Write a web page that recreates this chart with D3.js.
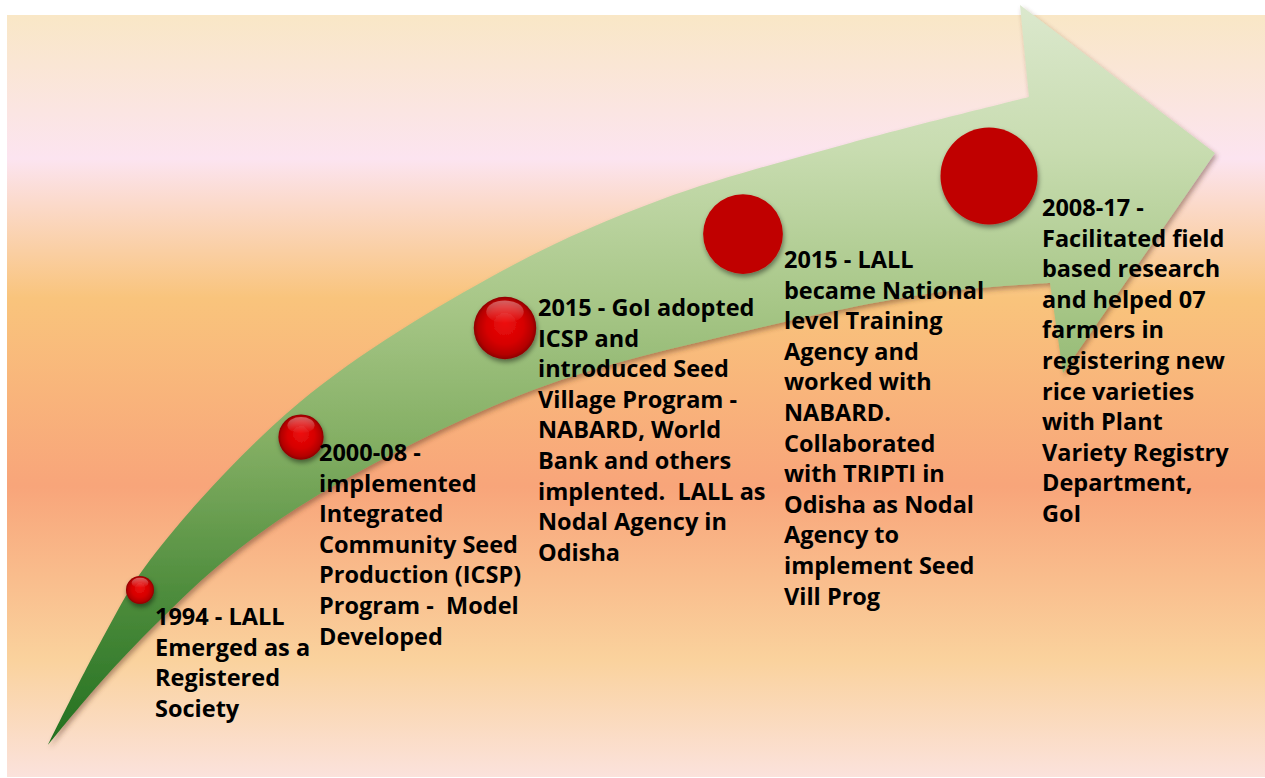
<!DOCTYPE html>
<html>
<head>
<meta charset="utf-8">
<script src="https://cdn.jsdelivr.net/npm/d3@7"></script>
<style>
  html, body { margin: 0; padding: 0; background: #ffffff; }
  svg { display: block; }
</style>
</head>
<body>
<svg id="chart" width="1265" height="778"></svg>
<script>
// ---------------- data ----------------
const milestoneIds = ["m1994", "m2000", "m2015a", "m2015b", "m2008"];
const milestoneOrder = [1, 2, 3, 4, 5];          // order along the arrow (drives marker size)
const milestoneStyle = ["glossy", "glossy", "glossy", "flat", "flat"];
const milestoneLines = [
  ["1994 - LALL", "Emerged as a", "Registered", "Society"],
  ["2000-08 -", "implemented", "Integrated", "Community Seed", "Production (ICSP)", "Program -  Model", "Developed"],
  ["2015 - GoI adopted", "ICSP and", "introduced Seed", "Village Program -", "NABARD, World", "Bank and others", "implented.  LALL as", "Nodal Agency in", "Odisha"],
  ["2015 - LALL", "became National", "level Training", "Agency and", "worked with", "NABARD.", "Collaborated", "with TRIPTI in", "Odisha as Nodal", "Agency to", "implement Seed", "Vill Prog"],
  ["2008-17 -", "Facilitated field", "based research", "and helped 07", "farmers in", "registering new", "rice varieties", "with Plant", "Variety Registry", "Department,", "GoI"]
];

// ---------------- layout (positions, not data) ----------------
const W = 1265, H = 778;
const markerAnchor = [[140, 590], [301, 437], [505, 328], [743, 234], [989, 176]];
const textAnchor = [[155, 625], [319, 461], [538, 316], [784, 268], [1042, 216]];
const lineHeight = 30.6;

// arrow outline
const upperEdge = [[48, 745], [100, 643], [150, 560], [300, 402], [500, 272], [660, 200], [850, 143], [1029, 97]];
const arrowHead = [[1020, 5], [1215, 153], [1063, 373], [1050, 283]];
const lowerEdge = [[1050, 283], [933, 293], [750, 330], [533, 390], [330, 488], [230, 556], [157, 623], [100, 683], [48, 745]];

const svg = d3.select("#chart");
const defs = svg.append("defs");

// background gradient
const bg = defs.append("linearGradient").attr("id", "bgGrad")
  .attr("gradientUnits", "userSpaceOnUse").attr("x1", 0).attr("y1", 15).attr("x2", 0).attr("y2", 777);
[[15, "#f9e7c6"], [159, "#fce4f0"], [298, "#f9c47c"], [486, "#f8a57a"], [660, "#fad29d"], [777, "#fbe2dc"]]
  .forEach(([y, c]) => bg.append("stop").attr("offset", (y - 15) / (777 - 15)).attr("stop-color", c));

// arrow gradient
const ag = defs.append("linearGradient").attr("id", "arrowGrad")
  .attr("gradientUnits", "userSpaceOnUse").attr("x1", 0).attr("y1", 5).attr("x2", 0).attr("y2", 745);
[[5, "#dbe8cd"], [150, "#c8dcb0"], [300, "#a8c788"], [440, "#84af64"], [590, "#4f8d3d"], [745, "#227020"]]
  .forEach(([y, c]) => ag.append("stop").attr("offset", (y - 5) / 740).attr("stop-color", c));

// glossy sphere gradient
const rg = defs.append("radialGradient").attr("id", "sphereGrad")
  .attr("cx", "50%").attr("cy", "50%").attr("r", "50%").attr("fx", "50%").attr("fy", "40%");
[[0, "#ee1010"], [0.6, "#d60000"], [0.88, "#b30000"], [1, "#8c0000"]]
  .forEach(([o, c]) => rg.append("stop").attr("offset", o).attr("stop-color", c));
const hg = defs.append("linearGradient").attr("id", "hiGrad").attr("x1", 0).attr("y1", 0).attr("x2", 0).attr("y2", 1);
hg.append("stop").attr("offset", 0).attr("stop-color", "#ffffff").attr("stop-opacity", 0.38);
hg.append("stop").attr("offset", 1).attr("stop-color", "#ffffff").attr("stop-opacity", 0);

// shadows
const f1 = defs.append("filter").attr("id", "arrowShadow").attr("x", "-10%").attr("y", "-10%").attr("width", "130%").attr("height", "130%");
f1.append("feDropShadow").attr("dx", 2).attr("dy", 3).attr("stdDeviation", 2.5)
  .attr("flood-color", "#5a3020").attr("flood-opacity", 0.45);
const f2 = defs.append("filter").attr("id", "dotShadow").attr("x", "-30%").attr("y", "-30%").attr("width", "160%").attr("height", "170%");
f2.append("feDropShadow").attr("dx", 1).attr("dy", 3).attr("stdDeviation", 2.5)
  .attr("flood-color", "#000").attr("flood-opacity", 0.45);

// background
svg.append("rect").attr("x", 7).attr("y", 15).attr("width", W - 7).attr("height", 762)
  .attr("fill", "url(#bgGrad)");

// arrow
const curve = d3.line().curve(d3.curveCatmullRom.alpha(0.5));
const upperPath = curve(upperEdge);
const lowerPath = curve(lowerEdge).replace(/^M/, "L");
const headPath = arrowHead.map(p => "L" + p[0] + "," + p[1]).join("");
svg.append("path")
  .attr("d", upperPath + headPath + lowerPath + "Z")
  .attr("fill", "url(#arrowGrad)")
  .attr("filter", "url(#arrowShadow)");

// marker size scale
const rScale = d3.scaleLinear().domain(d3.extent(milestoneOrder)).range([14, 48.5]);

const milestones = milestoneIds.map((id, i) => ({
  id, order: milestoneOrder[i], style: milestoneStyle[i], lines: milestoneLines[i],
  cx: markerAnchor[i][0], cy: markerAnchor[i][1], tx: textAnchor[i][0], ty: textAnchor[i][1]
}));

const g = svg.append("g").selectAll("g").data(milestones).join("g");

g.append("circle")
  .attr("cx", d => d.cx).attr("cy", d => d.cy).attr("r", d => rScale(d.order))
  .attr("fill", d => d.style === "glossy" ? "url(#sphereGrad)" : "#c00000")
  .attr("filter", "url(#dotShadow)");

g.filter(d => d.style === "glossy").append("ellipse")
  .attr("cx", d => d.cx).attr("cy", d => d.cy - rScale(d.order) * 0.52)
  .attr("rx", d => rScale(d.order) * 0.6).attr("ry", d => rScale(d.order) * 0.36)
  .attr("fill", "url(#hiGrad)");

// texts
const t = svg.append("g").selectAll("text").data(milestones).join("text")
  .attr("x", d => d.tx).attr("y", d => d.ty)
  .attr("font-family", "'Open Sans', 'Noto Sans', sans-serif")
  .attr("font-weight", "bold")
  .attr("font-size", 23.5)
  .attr("letter-spacing", 0)
  .attr("fill", "#000")
  .style("white-space", "pre");

t.selectAll("tspan").data(d => d.lines.map((l, j) => ({ l, j, x: d.tx, y: d.ty })))
  .join("tspan")
  .attr("x", d => d.x)
  .attr("y", d => d.y + d.j * lineHeight)
  .text(d => d.l);
</script>
</body>
</html>
